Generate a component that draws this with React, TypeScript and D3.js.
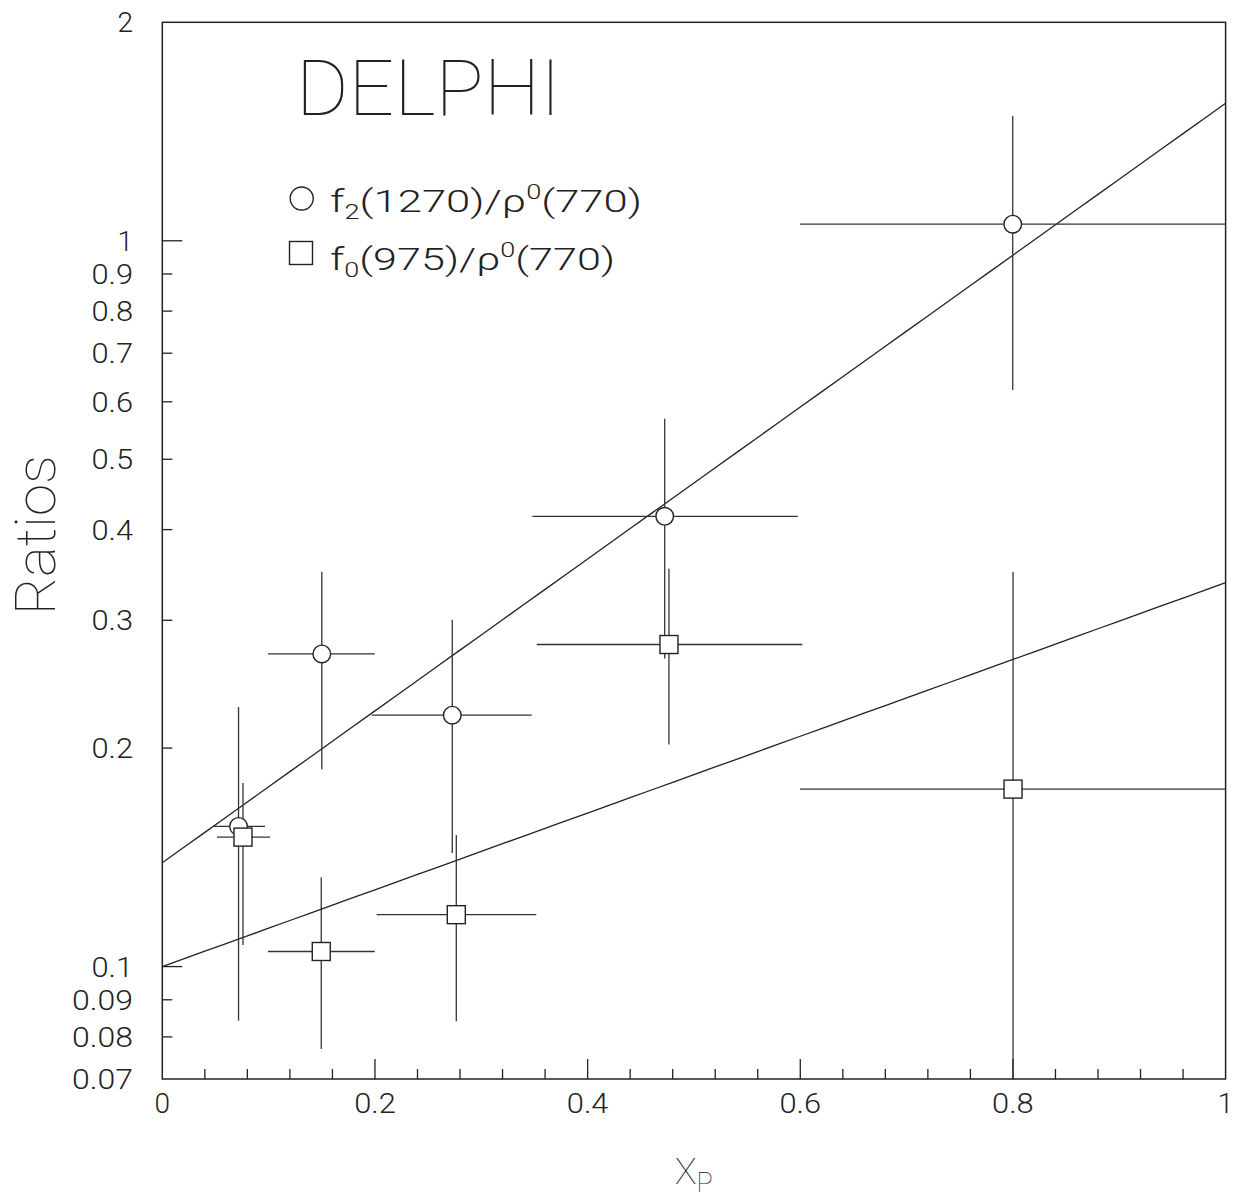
import React from "react";
import * as d3 from "d3";

// ---- data ----
const f2X = [0.0717, 0.150, 0.2727, 0.4725, 0.7998];
const f2Y = [0.156, 0.2696, 0.222, 0.4172, 1.054];
const f2XLo = [0.0477, 0.0994, 0.197, 0.348, 0.5997];
const f2XHi = [0.0966, 0.1998, 0.3474, 0.5976, 1.0];
const f2YLo = [0.0842, 0.187, 0.1434, 0.2657, 0.6231];
const f2YHi = [0.2278, 0.350, 0.3006, 0.5684, 1.486];

const f0X = [0.0759, 0.1495, 0.2765, 0.4765, 0.8001];
const f0Y = [0.1508, 0.1049, 0.1179, 0.2778, 0.1756];
const f0XLo = [0.0514, 0.0994, 0.2016, 0.3521, 0.5997];
const f0XHi = [0.1013, 0.1998, 0.3517, 0.6019, 1.0];
const f0YLo = [0.1071, 0.077, 0.0841, 0.2023, 0.05];
const f0YHi = [0.179, 0.1328, 0.1518, 0.3533, 0.3496];

// exponential fits: value at x=0 and at x=1
const f2Fit = [0.139, 1.547];
const f0Fit = [0.1, 0.338];

const yTickValues = [0.07, 0.08, 0.09, 0.1, 0.2, 0.3, 0.4, 0.5, 0.6, 0.7, 0.8, 0.9, 1, 2];
const yTickLabels = ["0.07", "0.08", "0.09", "0.1", "0.2", "0.3", "0.4", "0.5", "0.6", "0.7", "0.8", "0.9", "1", "2"];
const xLabelValues = [0, 0.2, 0.4, 0.6, 0.8, 1];
const xLabelTexts = ["0", "0.2", "0.4", "0.6", "0.8", "1"];

const W = 1233;
const H = 1199;
const FONT = "Roboto, 'DejaVu Sans', sans-serif";
const INK = "#222";

const labelLen = (s: string) => {
  const digits = s.replace(/[^0-9]/g, "").length;
  const dots = s.length - digits;
  return digits * 19.3 + dots * 3;
};

export default function App() {
  const x = d3.scaleLinear().domain([0, 1]).range([162.3, 1225.6]);
  const y = d3.scaleLog().domain([0.07, 2]).range([1079, 22.3]).clamp(true);

  const xMinor = d3.range(0, 26).map((i) => i * 0.04);
  const fitLine = (fit: number[]) => {
    const pts = d3.range(0, 51).map((i) => i / 50);
    return d3
      .line<number>()
      .x((v) => x(v))
      .y((v) => y(fit[0] * Math.pow(fit[1] / fit[0], v)))(pts) as string;
  };

  const bars = (X: number[], Y: number[], XL: number[], XH: number[], YL: number[], YH: number[], key: string) =>
    X.map((v, i) => (
      <g key={key + i} stroke="#333" strokeWidth={1.3}>
        <line x1={x(XL[i])} x2={x(XH[i])} y1={y(Y[i])} y2={y(Y[i])} />
        <line x1={x(v)} x2={x(v)} y1={y(YL[i])} y2={y(YH[i])} />
      </g>
    ));

  return (
    <svg width={W} height={H} style={{ position: "absolute", left: 0, top: 0, background: "#fff" }}>
      <rect x={0} y={0} width={W} height={H} fill="#fff" />
      {/* frame */}
      <rect x={x(0)} y={y(2)} width={x(1) - x(0)} height={y(0.07) - y(2)} fill="none" stroke={INK} strokeWidth={1.5} />

      {/* y ticks */}
      {yTickValues.map((v, i) => {
        const major = v === 0.1 || v === 1;
        const lab = yTickLabels[i];
        return (
          <g key={"yt" + i}>
            {v !== 2 && v !== 0.07 && (
              <line x1={x(0)} x2={x(0) + (major ? 20 : 10)} y1={y(v)} y2={y(v)} stroke={INK} strokeWidth={1.3} />
            )}
            <text
              x={133}
              y={y(v)}
              dy="0.36em"
              textAnchor="end"
              fontFamily={FONT}
              fontWeight={300}
              fontSize={28}
              fill={INK}
              {...(lab.length > 1 ? { textLength: labelLen(lab), lengthAdjust: "spacingAndGlyphs" } : {})}
            >
              {lab}
            </text>
          </g>
        );
      })}

      {/* x ticks */}
      {xMinor.map((v, i) => {
        if (i === 0 || i === 25) return null;
        const major = i % 5 === 0;
        return (
          <line key={"xt" + i} x1={x(v)} x2={x(v)} y1={y(0.07)} y2={y(0.07) - (major ? 20 : 10)} stroke={INK} strokeWidth={1.3} />
        );
      })}
      {xLabelValues.map((v, i) => {
        const lab = xLabelTexts[i];
        return (
          <text
            key={"xl" + i}
            x={x(v)}
            y={1113}
            textAnchor="middle"
            fontFamily={FONT}
            fontWeight={300}
            fontSize={28}
            fill={INK}
            {...(lab.length > 1 ? { textLength: labelLen(lab), lengthAdjust: "spacingAndGlyphs" } : {})}
          >
            {lab}
          </text>
        );
      })}

      {/* fit lines */}
      <path d={fitLine(f2Fit)} fill="none" stroke={INK} strokeWidth={1.3} />
      <path d={fitLine(f0Fit)} fill="none" stroke={INK} strokeWidth={1.3} />

      {/* error bars */}
      {bars(f2X, f2Y, f2XLo, f2XHi, f2YLo, f2YHi, "c")}
      {bars(f0X, f0Y, f0XLo, f0XHi, f0YLo, f0YHi, "s")}

      {/* markers */}
      {f2X.map((v, i) => (
        <circle key={"cm" + i} cx={x(v)} cy={y(f2Y[i])} r={8.8} fill="#fff" stroke={INK} strokeWidth={1.4} />
      ))}
      {f0X.map((v, i) => (
        <rect key={"sm" + i} x={x(v) - 9} y={y(f0Y[i]) - 9} width={18} height={18} fill="#fff" stroke={INK} strokeWidth={1.4} />
      ))}

      {/* DELPHI */}
      <text x={296} y={115} fontFamily={FONT} fontWeight={100} fontSize={77} fill={INK} textLength={265} lengthAdjust="spacingAndGlyphs">
        DELPHI
      </text>

      {/* legend */}
      <circle cx={301.7} cy={198.5} r={11.5} fill="#fff" stroke={INK} strokeWidth={1.4} />
      <text x={330} y={212} fontFamily={FONT} fontWeight={300} fontSize={32} fill={INK} textLength={312} lengthAdjust="spacingAndGlyphs">
        f<tspan fontSize={20} dy={7}>2</tspan>
        <tspan dy={-7}>(1270)/ρ</tspan>
        <tspan fontSize={20} dy={-13}>0</tspan>
        <tspan dy={13}>(770)</tspan>
      </text>
      <rect x={289.5} y={241.5} width={23} height={23} fill="#fff" stroke={INK} strokeWidth={1.4} />
      <text x={330} y={270} fontFamily={FONT} fontWeight={300} fontSize={32} fill={INK} textLength={285} lengthAdjust="spacingAndGlyphs">
        f<tspan fontSize={20} dy={7}>0</tspan>
        <tspan dy={-7}>(975)/ρ</tspan>
        <tspan fontSize={20} dy={-13}>0</tspan>
        <tspan dy={13}>(770)</tspan>
      </text>

      {/* axis titles */}
      <text transform="translate(55,535) rotate(-90)" textAnchor="middle" fontFamily={FONT} fontWeight={100} fontSize={55} fill={INK} textLength={160} lengthAdjust="spacingAndGlyphs">
        Ratios
      </text>
      <text x={675} y={1184} fontFamily={FONT} fontWeight={100} fontSize={36} fill={INK}>
        X<tspan fontSize={27} dy={8}>P</tspan>
      </text>
    </svg>
  );
}
